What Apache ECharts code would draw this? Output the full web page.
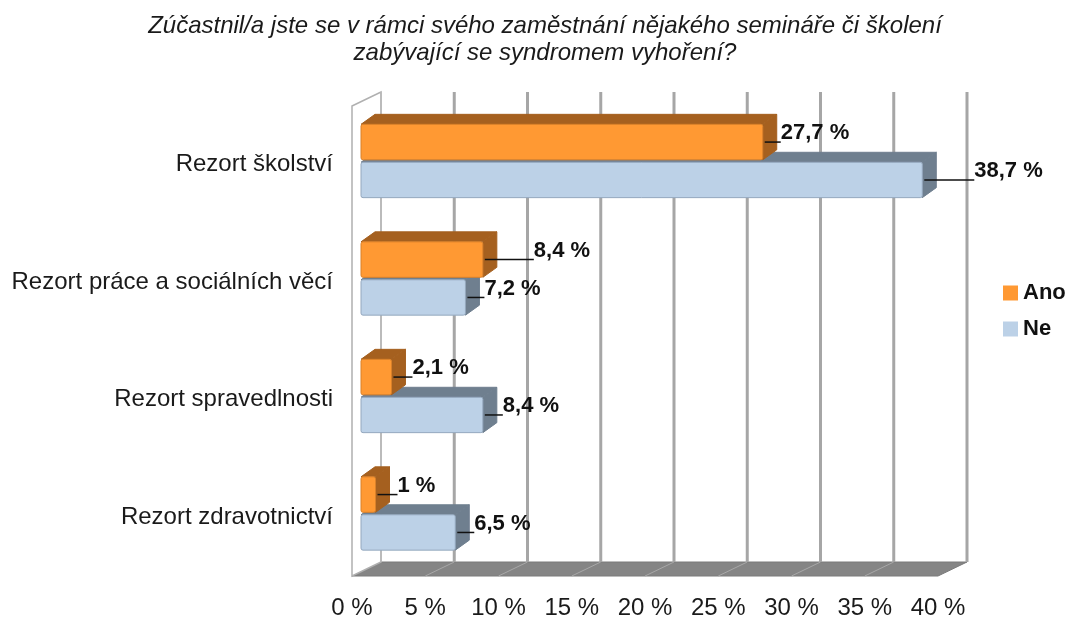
<!DOCTYPE html>
<html>
<head>
<meta charset="utf-8">
<script src="https://cdn.jsdelivr.net/npm/echarts@6/dist/echarts.min.js"></script>
<style>
  html, body { margin: 0; padding: 0; background: #fff; }
  #chart { width: 1074px; height: 620px; }
</style>
</head>
<body>
<div id="chart"></div>
<script>
// data
const categories = ['Rezort školství', 'Rezort práce a sociálních věcí', 'Rezort spravedlnosti', 'Rezort zdravotnictví'];
const anoValues = [27.7, 8.4, 2.1, 1];
const neValues = [38.7, 7.2, 8.4, 6.5];
const xTicks = [0, 5, 10, 15, 20, 25, 30, 35, 40];

// look of the 3d box
const FONT = '"Liberation Sans", Arial, sans-serif';
const boxDepth = [29, -14];
const barDepth = [14, -10];
const barShift = 9;
const anoLabelGap = [18, 51, 21, 22];
const neLabelGap = [52, 19, 20, 19];

const colors = {
  ano: { front: '#FF9933', dark: '#A5601F', edge: '#D9812A' },
  ne: { front: '#BCD1E7', dark: '#6F7F8F', edge: '#94A8BE' }
};

function fmt(v) {
  return String(v).replace('.', ',') + ' %';
}

// back wall, left wall, floor and grid lines
function renderBox(params, api) {
  const cs = params.coordSys;
  const dx = boxDepth[0], dy = boxDepth[1];
  const left = cs.x, right = cs.x + cs.width, top = cs.y, bottom = cs.y + cs.height;
  const children = [];
  // floor
  children.push({
    type: 'polygon',
    shape: { points: [[left, bottom], [right, bottom], [right + dx, bottom + dy], [left + dx, bottom + dy]] },
    style: { fill: '#858585', stroke: '#7a7a7a', lineWidth: 1 }
  });
  // left wall
  children.push({
    type: 'polygon',
    shape: { points: [[left, top], [left + dx, top + dy], [left + dx, bottom + dy], [left, bottom]] },
    style: { fill: '#fff', stroke: '#b0b0b0', lineWidth: 1.5 }
  });
  xTicks.forEach(function (t) {
    const x = api.coord([t, 0])[0];
    if (t > 0 && t < 40) {
      children.push({
        type: 'line',
        shape: { x1: x, y1: bottom, x2: x + dx, y2: bottom + dy },
        style: { stroke: '#a8a8a8', lineWidth: 1 }
      });
    }
    children.push({
      type: 'line',
      shape: { x1: x + dx, y1: top + dy, x2: x + dx, y2: bottom + dy },
      style: { stroke: t === 0 ? '#b8b8b8' : '#a6a6a6', lineWidth: t === 0 ? 1.5 : 3 }
    });
  });
  return { type: 'group', children: children };
}

function makeBarRender(kind) {
  const col = colors[kind];
  const gaps = kind === 'ano' ? anoLabelGap : neLabelGap;
  return function (params, api) {
    const v = api.value(0), i = api.value(1);
    const base = api.coord([0, i]);
    const band = api.size([0, 1])[1];
    const xEnd = api.coord([v, i])[0];
    const x0 = base[0] + barShift;
    const x1 = x0 + (xEnd - base[0]) * 0.99;
    let y0, y1;
    if (kind === 'ano') {
      y0 = base[1] - 0.344 * band;
      y1 = base[1] - 0.042 * band;
    } else {
      y0 = base[1] - 0.021 * band;
      y1 = base[1] + 0.28 * band;
    }
    const dx = barDepth[0], dy = barDepth[1];
    const ym = (y0 + y1) / 2;
    const gap = gaps[i];
    return {
      type: 'group',
      children: [
        {
          type: 'polygon',
          shape: { points: [[x1, y0], [x1 + dx, y0 + dy], [x1 + dx, y1 + dy], [x1, y1]] },
          style: { fill: col.dark, stroke: col.dark, lineWidth: 1 }
        },
        {
          type: 'polygon',
          shape: { points: [[x0, y0], [x0 + dx, y0 + dy], [x1 + dx, y0 + dy], [x1, y0]] },
          style: { fill: col.dark, stroke: col.dark, lineWidth: 1 }
        },
        {
          type: 'rect',
          shape: { x: x0, y: y0, width: x1 - x0, height: y1 - y0, r: 2 },
          style: { fill: col.front, stroke: col.edge, lineWidth: 1 }
        },
        {
          type: 'line',
          shape: { x1: x1 + 2, y1: ym, x2: x1 + gap, y2: ym },
          style: { stroke: '#111', lineWidth: 1.5 }
        },
        {
          type: 'text',
          style: {
            text: fmt(v), x: x1 + gap, y: ym - 9,
            align: 'left', verticalAlign: 'middle',
            font: 'bold 22px ' + FONT, fill: '#111'
          }
        }
      ]
    };
  };
}

const chart = echarts.init(document.getElementById('chart'));

const option = {
  animation: false,
  title: {
    text: 'Zúčastnil/a jste se v rámci svého zaměstnání nějakého semináře či školení\nzabývající se syndromem vyhoření?',
    left: 545,
    textAlign: 'center',
    top: 13,
    padding: 0,
    textStyle: {
      fontFamily: FONT, fontSize: 24, fontStyle: 'italic', fontWeight: 'normal',
      color: '#1a1a1a', lineHeight: 27
    }
  },
  legend: {
    data: ['Ano', 'Ne'],
    orient: 'vertical',
    left: 1003,
    top: 282,
    padding: 0,
    icon: 'rect',
    itemWidth: 15,
    itemHeight: 15,
    itemGap: 14,
    textStyle: { fontFamily: FONT, fontSize: 22, fontWeight: 'bold', color: '#111' }
  },
  grid: { left: 352, top: 106, width: 586, height: 471 },
  xAxis: {
    type: 'value',
    min: 0,
    max: 40,
    interval: 5,
    axisLine: { show: false },
    axisTick: { show: false },
    splitLine: { show: false },
    axisLabel: {
      formatter: '{value} %', margin: 20,
      fontFamily: FONT, fontSize: 24, color: '#1a1a1a'
    }
  },
  yAxis: {
    type: 'category',
    data: categories,
    inverse: true,
    axisLine: { show: false },
    axisTick: { show: false },
    splitLine: { show: false },
    axisLabel: { margin: 19, fontFamily: FONT, fontSize: 24, color: '#1a1a1a' }
  },
  series: [
    {
      name: 'box',
      type: 'custom',
      clip: false,
      silent: true,
      renderItem: renderBox,
      data: [[0, 0]],
      z: 1
    },
    {
      name: 'Ne',
      type: 'custom',
      clip: false,
      itemStyle: { color: colors.ne.front },
      renderItem: makeBarRender('ne'),
      data: neValues.map(function (v, i) { return [v, i]; }),
      z: 2
    },
    {
      name: 'Ano',
      type: 'custom',
      clip: false,
      itemStyle: { color: colors.ano.front },
      renderItem: makeBarRender('ano'),
      data: anoValues.map(function (v, i) { return [v, i]; }),
      z: 3
    }
  ]
};

chart.setOption(option);
</script>
</body>
</html>
